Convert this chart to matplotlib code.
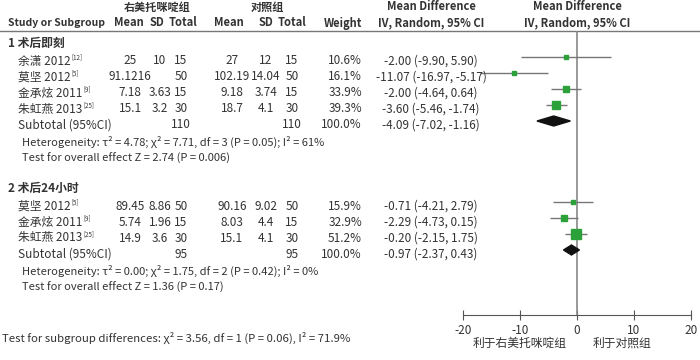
"""Forest plot: 右美托咪啶组 vs 对照组, two subgroups"""

import matplotlib
matplotlib.use("Agg")
import matplotlib.pyplot as plt
from matplotlib.lines import Line2D
from matplotlib.transforms import blended_transform_factory

plt.rcParams["font.family"] = ["Noto Sans CJK SC", "DejaVu Sans"]

# subgroup 1: 术后即刻
g1_title = "1 术后即刻"
g1_studies = ["余潇 2012", "莫坚 2012", "金承炫 2011", "朱虹燕 2013"]
g1_refs = ["[12]", "[5]", "[9]", "[25]"]
g1_exp_mean = ["25", "91.1216", "7.18", "15.1"]
g1_exp_sd = ["10", "", "3.63", "3.2"]
g1_exp_n = [15, 50, 15, 30]
g1_ctl_mean = ["27", "102.19", "9.18", "18.7"]
g1_ctl_sd = ["12", "14.04", "3.74", "4.1"]
g1_ctl_n = [15, 50, 15, 30]
g1_weight = [10.6, 16.1, 33.9, 39.3]
g1_md = [-2.00, -11.07, -2.00, -3.60]
g1_lo = [-9.90, -16.97, -4.64, -5.46]
g1_hi = [5.90, -5.17, 0.64, -1.74]
g1_total = (110, 110)
g1_sub = (-4.09, -7.02, -1.16)
g1_het = "Heterogeneity: τ² = 4.78; χ² = 7.71, df = 3 (P = 0.05); I² = 61%"
g1_test = "Test for overall effect Z = 2.74 (P = 0.006)"

# subgroup 2: 术后24小时
g2_title = "2 术后24小时"
g2_studies = ["莫坚 2012", "金承炫 2011", "朱虹燕 2013"]
g2_refs = ["[5]", "[9]", "[25]"]
g2_exp_mean = ["89.45", "5.74", "14.9"]
g2_exp_sd = ["8.86", "1.96", "3.6"]
g2_exp_n = [50, 15, 30]
g2_ctl_mean = ["90.16", "8.03", "15.1"]
g2_ctl_sd = ["9.02", "4.4", "4.1"]
g2_ctl_n = [50, 15, 30]
g2_weight = [15.9, 32.9, 51.2]
g2_md = [-0.71, -2.29, -0.20]
g2_lo = [-4.21, -4.73, -2.15]
g2_hi = [2.79, 0.15, 1.75]
g2_total = (95, 95)
g2_sub = (-0.97, -2.37, 0.43)
g2_het = "Heterogeneity: τ² = 0.00; χ² = 1.75, df = 2 (P = 0.42); I² = 0%"
g2_test = "Test for overall effect Z = 1.36 (P = 0.17)"

subgroup_test = "Test for subgroup differences: χ² = 3.56, df = 1 (P = 0.06), I² = 71.9%"
xticks = [-20, -10, 0, 10, 20]
favours = ["利于右美托咪啶组", "利于对照组"]

W, H = 700, 360
GREEN = "#2ca13a"
TXT = "#333333"


def main():
    fig = plt.figure(figsize=(W / 100, H / 100), dpi=100)
    ax = fig.add_axes([463 / W, (H - 315) / H, 228 / W, 315 / H])
    ax.set_xlim(-20, 20)
    ax.set_ylim(315, 0)
    for s in ["top", "left", "right"]:
        ax.spines[s].set_visible(False)
    ax.spines["bottom"].set_color("#555555")
    ax.set_yticks([])
    ax.set_xticks(xticks)
    ax.set_xticklabels([str(t) for t in xticks])
    ax.tick_params(axis="x", direction="inout", length=7, color="#555555",
                   labelsize=8.5, labelcolor=TXT, pad=3)

    tr = blended_transform_factory(fig.transFigure, ax.transData)
    renderer = fig.canvas.get_renderer()

    def txt(px, y, s, ha="left", **kw):
        kw.setdefault("fontsize", 8.5)
        kw.setdefault("color", TXT)
        return ax.text(px / W, y, s, ha=ha, va="center", transform=tr, **kw)

    # headers
    hdr = dict(fontweight="bold", fontsize=8)
    txt(157, 7, "右美托咪啶组", ha="center", **hdr)
    txt(267, 7, "对照组", ha="center", **hdr)
    txt(431, 7, "Mean Difference", ha="center", **hdr)
    txt(577, 7, "Mean Difference", ha="center", **hdr)
    txt(8, 23, "Study or Subgroup", fontweight="bold", fontsize=7.5)
    for px, s in [(129, "Mean"), (157, "SD"), (183, "Total"),
                  (229, "Mean"), (266, "SD"), (292, "Total")]:
        txt(px, 23, s, ha="center", **hdr)
    txt(362, 23, "Weight", ha="right", **hdr)
    txt(431, 23, "IV, Random, 95% CI", ha="center", **hdr)
    txt(577, 23, "IV, Random, 95% CI", ha="center", **hdr)
    ax.add_line(Line2D([0, 1], [31, 31], transform=tr, color="#777777",
                       lw=1, clip_on=False))

    ax.vlines(0, 31, 315, color="#888888", lw=1.2)

    groups = [
        (43, g1_title, g1_studies, g1_refs, g1_exp_mean, g1_exp_sd, g1_exp_n,
         g1_ctl_mean, g1_ctl_sd, g1_ctl_n, g1_weight, g1_md, g1_lo, g1_hi,
         g1_total, g1_sub, g1_het, g1_test, (142, 158)),
        (188, g2_title, g2_studies, g2_refs, g2_exp_mean, g2_exp_sd, g2_exp_n,
         g2_ctl_mean, g2_ctl_sd, g2_ctl_n, g2_weight, g2_md, g2_lo, g2_hi,
         g2_total, g2_sub, g2_het, g2_test, (271, 287)),
    ]
    for (y0, title, studies, refs, em, esd, en, cm, csd, cn, wt, md, lo, hi,
         tot, sub, het, test, (yh, yt)) in groups:
        txt(8, y0, title, fontweight="bold", fontsize=8.5)
        for i, name in enumerate(studies):
            y = y0 + 18 + 16 * i  # text row
            ym = y - 4            # marker row
            t = txt(18, y, name)
            x_end = t.get_window_extent(renderer).x1
            txt(x_end + 1, y - 4, refs[i], fontsize=4.5)
            txt(130, y, em[i], ha="center")
            txt(160, y, esd[i], ha="center")
            txt(181, y, str(en[i]), ha="center")
            txt(232, y, cm[i], ha="center")
            txt(266, y, csd[i], ha="center")
            txt(292, y, str(cn[i]), ha="center")
            txt(362, y, f"{wt[i]:.1f}%", ha="right")
            txt(431, y, f"{md[i]:.2f} ({lo[i]:.2f}, {hi[i]:.2f})", ha="center")
            ax.hlines(ym, lo[i], hi[i], color="#777777", lw=1)
            size = (1.5 + wt[i] * 0.15) * 0.72
            ax.plot(md[i], ym, "s", ms=size, color=GREEN, mec=GREEN)
        y = y0 + 18 + 16 * len(studies)
        ym = y - 4
        txt(18, y, "Subtotal (95%CI)")
        txt(181, y, str(tot[0]), ha="center")
        txt(292, y, str(tot[1]), ha="center")
        txt(362, y, "100.0%", ha="right")
        txt(431, y, f"{sub[0]:.2f} ({sub[1]:.2f}, {sub[2]:.2f})", ha="center")
        ax.fill([sub[1], sub[0], sub[2], sub[0]], [ym, ym - 5, ym, ym + 5],
                color="#111111", zorder=3)
        txt(22, yh, het, fontsize=8)
        txt(22, yt, test, fontsize=8)

    fig.text(2 / W, 1 - 338 / H, subgroup_test, fontsize=8.2, color=TXT,
             va="center", ha="left")
    fig.text(520 / W, 1 - 343 / H, favours[0], fontsize=8.5, color=TXT,
             va="center", ha="center")
    fig.text(622 / W, 1 - 343 / H, favours[1], fontsize=8.5, color=TXT,
             va="center", ha="center")

    fig.savefig("out.png", dpi=100)


if __name__ == "__main__":
    main()
